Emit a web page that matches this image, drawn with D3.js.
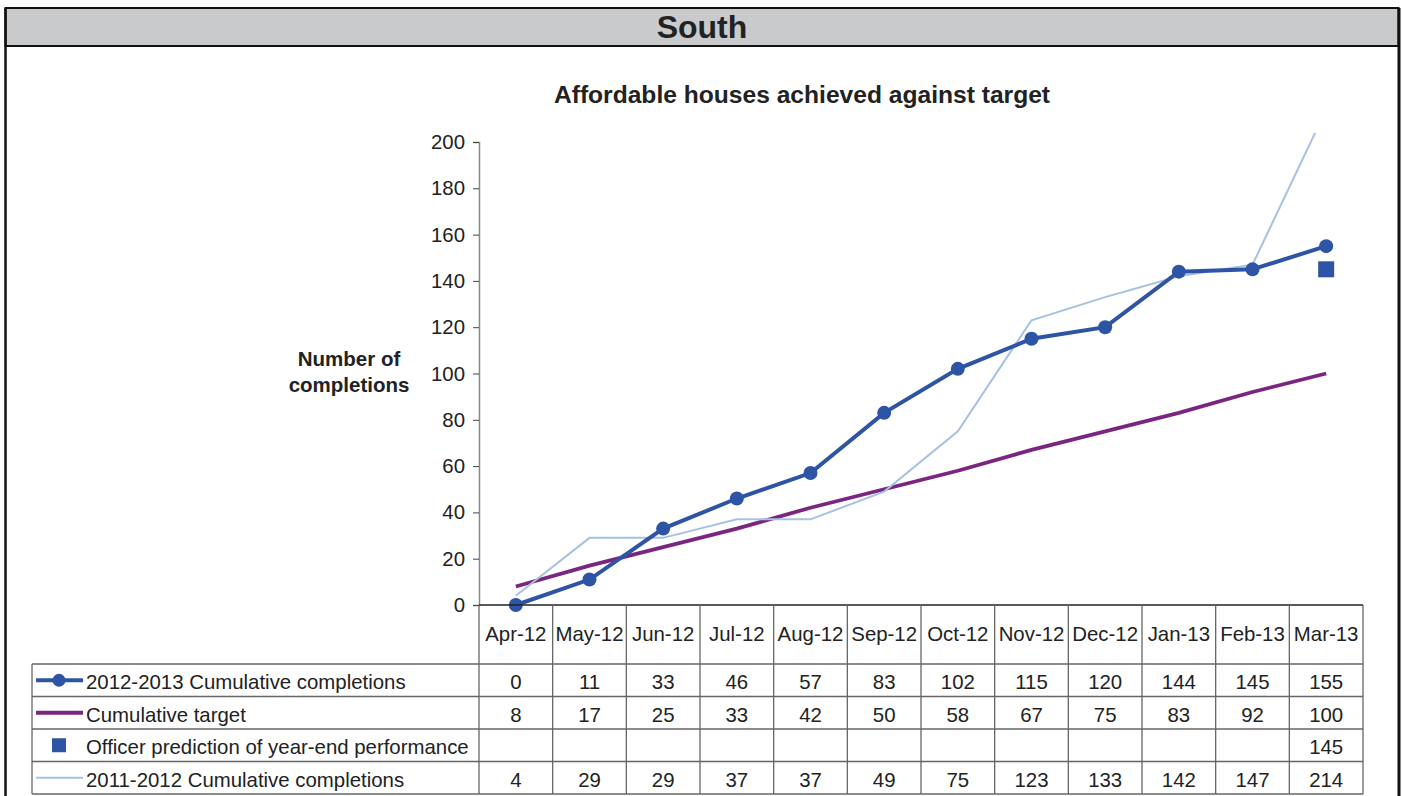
<!DOCTYPE html>
<html><head><meta charset="utf-8">
<script src="https://cdn.jsdelivr.net/npm/d3@7"></script>
<style>
body{margin:0;background:#fff;}
svg{display:block;font-family:"Liberation Sans",Arial,sans-serif;}
</style></head>
<body>
<svg id="chart" width="1403" height="796"></svg>
<script>
const categories = ["Apr-12","May-12","Jun-12","Jul-12","Aug-12","Sep-12","Oct-12","Nov-12","Dec-12","Jan-13","Feb-13","Mar-13"];
const completions2013 = [0,11,33,46,57,83,102,115,120,144,145,155];
const target = [8,17,25,33,42,50,58,67,75,83,92,100];
const prediction = [null,null,null,null,null,null,null,null,null,null,null,145];
const completions2012 = [4,29,29,37,37,49,75,123,133,142,147,214];
const yTicks = [0,20,40,60,80,100,120,140,160,180,200];

const seriesNames = ["2012-2013 Cumulative completions","Cumulative target","Officer prediction of year-end performance","2011-2012 Cumulative completions"];
const rows = [completions2013, target, prediction, completions2012];

const BLUE="#2E54A6", PURPLE="#7A2681", LIGHT="#A6C1E3";
const FS = 20.4;
const svg = d3.select("#chart");

// Outer frame + header
svg.append("rect").attr("x",5.5).attr("y",8).attr("width",1393).attr("height",38).attr("fill","#C9CACC").attr("stroke","#111").attr("stroke-width",2);
svg.append("line").attr("x1",5.5).attr("x2",5.5).attr("y1",8).attr("y2",796).attr("stroke","#111").attr("stroke-width",2.5);
svg.append("line").attr("x1",1399).attr("x2",1399).attr("y1",8).attr("y2",796).attr("stroke","#111").attr("stroke-width",3);
svg.append("text").attr("x",702).attr("y",38).attr("text-anchor","middle").attr("font-size",32).attr("font-weight","bold").attr("fill","#222").text("South");

svg.append("text").attr("x",802).attr("y",103).attr("text-anchor","middle").attr("font-size",24.6).attr("font-weight","bold").attr("fill","#222").text("Affordable houses achieved against target");

const x0=479, x1=1363, yTop=142, yBot=605;
const x = d3.scaleBand().domain(categories).range([x0,x1]);
const y = d3.scaleLinear().domain([0,200]).range([yBot,yTop]);
const cx = c => x(c)+x.bandwidth()/2;

// Y axis
const yAxis = d3.axisLeft(y).tickValues(yTicks).tickSize(6).tickPadding(8);
const gy = svg.append("g").attr("transform",`translate(${x0},0)`).call(yAxis);
gy.select(".domain").attr("stroke","#888").attr("stroke-width",1.5);
gy.selectAll(".tick line").attr("stroke","#444");
gy.selectAll(".tick text").attr("font-size",FS).attr("fill","#222").attr("font-family","Liberation Sans, Arial, sans-serif");

// y title
const yt = svg.append("text").attr("text-anchor","middle").attr("font-size",20.5).attr("font-weight","bold").attr("fill","#222");
yt.append("tspan").attr("x",349).attr("y",366).text("Number of");
yt.append("tspan").attr("x",349).attr("y",392).text("completions");

// clip
svg.append("clipPath").attr("id","plotclip").append("rect").attr("x",x0).attr("y",133).attr("width",x1-x0).attr("height",yBot-133+10);

const plot = svg.append("g").attr("clip-path","url(#plotclip)");
const line = d3.line().defined(d=>d.v!=null).x(d=>cx(d.c)).y(d=>y(d.v));
const toPts = arr => arr.map((v,i)=>({c:categories[i],v}));

plot.append("path").datum(toPts(target)).attr("d",line).attr("fill","none").attr("stroke",PURPLE).attr("stroke-width",3.8);
plot.append("path").datum(toPts(completions2012)).attr("d",line).attr("fill","none").attr("stroke",LIGHT).attr("stroke-width",2);
plot.append("path").datum(toPts(completions2013)).attr("d",line).attr("fill","none").attr("stroke",BLUE).attr("stroke-width",4);
plot.selectAll("circle.m").data(toPts(completions2013)).join("circle").attr("class","m")
  .attr("cx",d=>cx(d.c)).attr("cy",d=>y(d.v)).attr("r",7).attr("fill",BLUE);
plot.selectAll("rect.p").data(toPts(prediction).filter(d=>d.v!=null)).join("rect").attr("class","p")
  .attr("x",d=>cx(d.c)-8).attr("y",d=>y(d.v)-8).attr("width",16).attr("height",16).attr("fill",BLUE);

// X axis line at 0
svg.append("line").attr("x1",x0).attr("x2",x1).attr("y1",yBot).attr("y2",yBot).attr("stroke","#222").attr("stroke-width",1.5);

// Table
const tTop=605, hdrBot=664, rowH=32.5, tBot=794, tLeft=32;
const grid = "#666";
categories.forEach((c,i)=>{
  svg.append("line").attr("x1",x(c)).attr("x2",x(c)).attr("y1",tTop).attr("y2",tBot).attr("stroke",grid).attr("stroke-width",1.3);
  svg.append("text").attr("x",cx(c)).attr("y",641).attr("text-anchor","middle").attr("font-size",FS).attr("fill","#222").text(c);
});
svg.append("line").attr("x1",x1).attr("x2",x1).attr("y1",tTop).attr("y2",tBot).attr("stroke",grid).attr("stroke-width",1.3);
svg.append("line").attr("x1",tLeft).attr("x2",tLeft).attr("y1",hdrBot).attr("y2",tBot).attr("stroke",grid).attr("stroke-width",1.3);
for(let r=0;r<=4;r++){
  const yy = r<4 ? hdrBot + r*rowH : tBot;
  svg.append("line").attr("x1",tLeft).attr("x2",x1).attr("y1",yy).attr("y2",yy).attr("stroke",grid).attr("stroke-width",1.3);
}
rows.forEach((arr,r)=>{
  const ty = hdrBot + r*rowH + 25;
  const my = hdrBot + r*rowH + rowH/2;
  svg.append("text").attr("x",86).attr("y",ty).attr("font-size",FS).attr("fill","#222").text(seriesNames[r]);
  arr.forEach((v,i)=>{
    if(v!=null) svg.append("text").attr("x",cx(categories[i])).attr("y",ty).attr("text-anchor","middle").attr("font-size",FS).attr("fill","#222").text(v);
  });
  if(r===0){
    svg.append("line").attr("x1",36).attr("x2",83).attr("y1",my).attr("y2",my).attr("stroke",BLUE).attr("stroke-width",4);
    svg.append("circle").attr("cx",59).attr("cy",my).attr("r",6.5).attr("fill",BLUE);
  } else if(r===1){
    svg.append("line").attr("x1",36).attr("x2",83).attr("y1",my).attr("y2",my).attr("stroke",PURPLE).attr("stroke-width",3.8);
  } else if(r===2){
    svg.append("rect").attr("x",52).attr("y",my-7).attr("width",14).attr("height",14).attr("fill",BLUE);
  } else {
    svg.append("line").attr("x1",36).attr("x2",83).attr("y1",my).attr("y2",my).attr("stroke",LIGHT).attr("stroke-width",2);
  }
});
</script>
</body></html>
